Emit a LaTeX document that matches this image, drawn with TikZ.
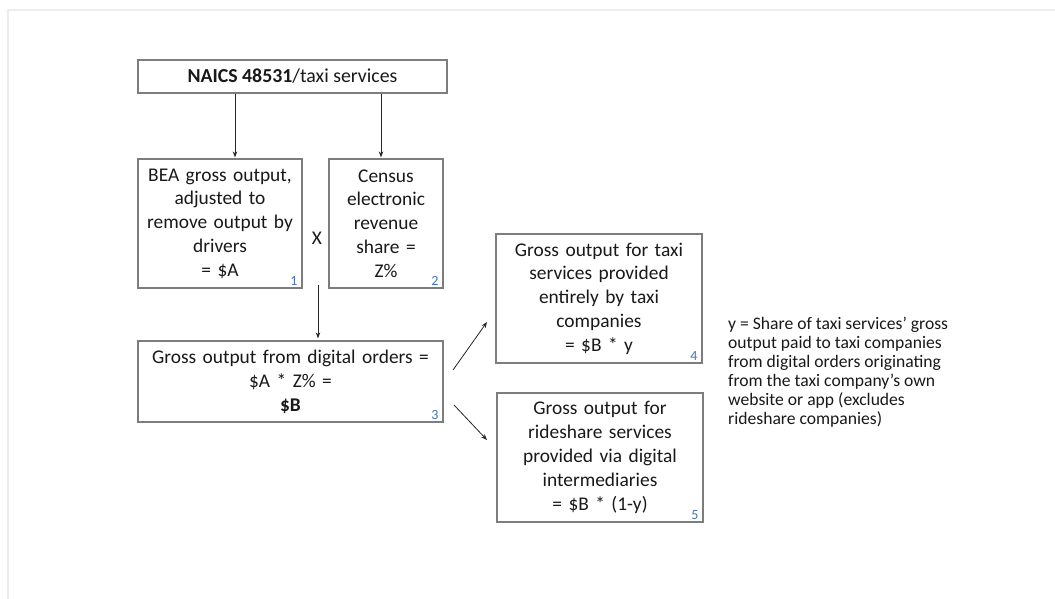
\documentclass[tikz,border=0pt]{standalone}
\usepackage{fontspec}
\setmainfont{Carlito}
\usetikzlibrary{arrows.meta}
\definecolor{boxline}{RGB}{125,125,125}
\definecolor{txt}{RGB}{25,25,25}
\definecolor{numblue}{RGB}{68,114,196}
\definecolor{frame}{RGB}{236,236,236}
\tikzset{
  box/.style={draw=boxline, line width=1.3pt, fill=white, inner sep=0pt, align=center,
    text=txt, font=\fontsize{19.4}{23.8}\selectfont},
  num/.style={text=numblue, font=\fontsize{14}{14}\selectfont, inner sep=0pt, anchor=south east},
  arr/.style={draw=black!85, line width=0.8pt, -{Stealth[length=6pt,width=4.5pt]}},
  note/.style={text=txt, align=left, inner sep=0pt, anchor=north west,
    font=\fontsize{17.6}{19}\selectfont}
}
\begin{document}
\begin{tikzpicture}[x=1pt,y=-1pt]
\useasboundingbox (0,0) rectangle (1055,599);
\fill[white] (0,0) rectangle (1055,599);
\draw[frame, line width=2pt] (8,599) -- (8,10) -- (1055,10);

% boxes
\node[box, minimum width=309pt, minimum height=33pt, font=\fontsize{19.8}{23.8}\selectfont] (top) at (292.5,76.5) {\textbf{NAICS 48531}/taxi services};
\node[box, minimum width=164pt, minimum height=129pt, text width=162pt] (b1) at (220,223.5)
  {BEA gross output,\\adjusted to\\remove output by\\drivers\\= \$A};
\node[box, minimum width=114pt, minimum height=129pt, text width=112pt] (b2) at (386,223.5)
  {Census\\electronic\\revenue\\share =\\Z\%};
\node[box, minimum width=305pt, minimum height=81pt, text width=300pt] (b3) at (290.5,381.5)
  {Gross output from digital orders =\\\$A * Z\% =\\\textbf{\$B}};
\node[box, minimum width=206pt, minimum height=129pt, text width=204pt] (b4) at (599,298.5)
  {Gross output for taxi\\services provided\\entirely by taxi\\companies\\= \$B * y};
\node[box, minimum width=206pt, minimum height=129pt, text width=204pt] (b5) at (600,457.5)
  {Gross output for\\rideshare services\\provided via digital\\intermediaries\\= \$B * (1-y)};

% number labels
\node[num] (n1) at ([xshift=-5pt,yshift=3pt]b1.south east) {1};
\node[num] (n2) at ([xshift=-5pt,yshift=3pt]b2.south east) {2};
\node[num] (n3) at ([xshift=-5pt,yshift=3pt]b3.south east) {3};
\node[num] (n4) at ([xshift=-5pt,yshift=3pt]b4.south east) {4};
\node[num] (n5) at ([xshift=-5pt,yshift=3pt]b5.south east) {5};

% multiplication sign
\node[text=txt, font=\fontsize{19.4}{20}\selectfont, inner sep=0pt] (x) at (317,238) {X};

% note
\node[note] (note) at (728,317)
  {y = Share of taxi services’ gross\\output paid to taxi companies\\from digital orders originating\\from the taxi company’s own\\website or app (excludes\\rideshare companies)};

% connectors
\coordinate (t1) at (235,0);
\coordinate (t2) at (381,0);
\draw[arr] (top.south -| t1) -- ([yshift=1pt]b1.north -| t1);
\draw[arr] (top.south -| t2) -- ([yshift=1pt]b2.north -| t2);
\coordinate (xs) at (318,285);
\draw[arr] (xs) -- ([yshift=2pt]b3.north -| xs);
\coordinate (d1s) at (453,370);
\coordinate (d1e) at (487,322);
\coordinate (d2s) at (454,405);
\coordinate (d2e) at (487,440);
\draw[arr] (d1s) -- (d1e);
\draw[arr] (d2s) -- (d2e);
\end{tikzpicture}
\end{document}
